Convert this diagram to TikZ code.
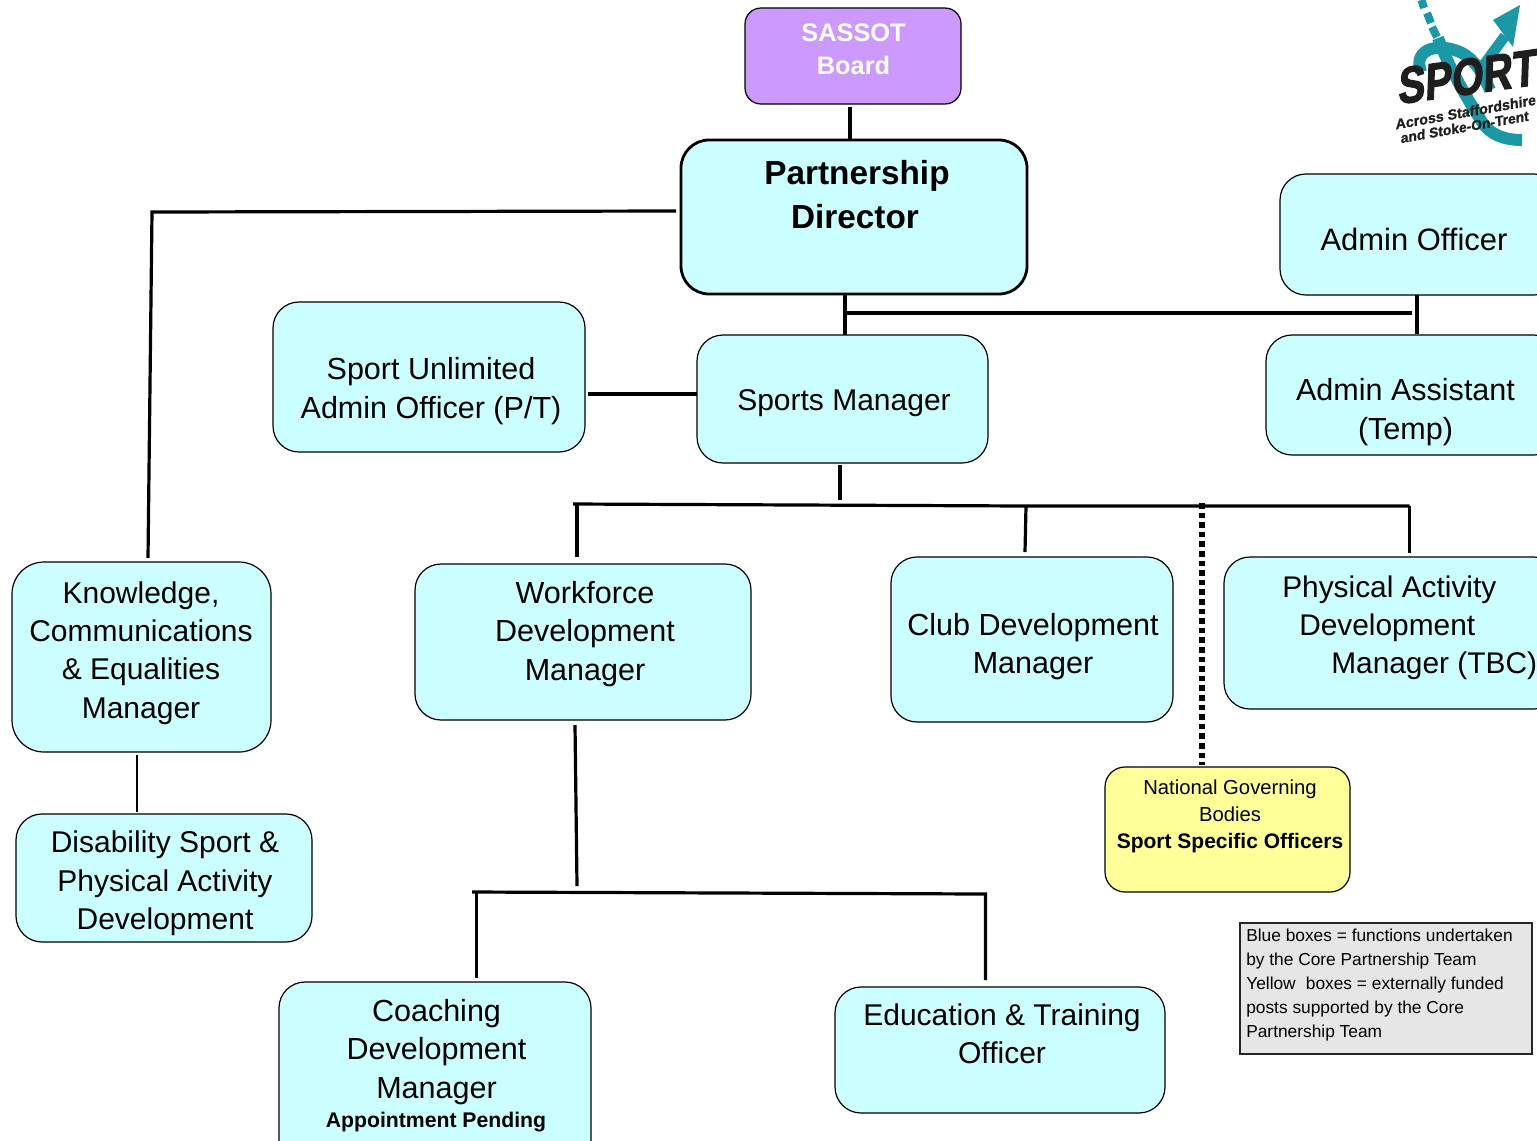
\documentclass[tikz,border=0pt]{standalone}
\usepackage{fontspec}
\setmainfont{Liberation Sans}
\newfontfamily\logofont[FakeBold=2.5,FakeSlant=0.22]{Liberation Sans Bold}
\newfontfamily\logosmall[FakeBold=1,FakeSlant=0.15]{Liberation Sans Bold}
\definecolor{cy}{HTML}{CCFFFF}
\definecolor{pu}{HTML}{CC99FF}
\definecolor{ye}{HTML}{FFFF99}
\definecolor{gy}{HTML}{E6E6E6}
\definecolor{teal1}{HTML}{1B98A6}
\definecolor{logok}{HTML}{1E1E1E}
\newcommand{\bx}[6][]{% style, name, x1,y1,x2,y2
  \pgfmathsetmacro{\bw}{(#5-#3)*0.75}\pgfmathsetmacro{\bh}{(#6-#4)*0.75}
  \node[box,#1,minimum width=\bw pt,minimum height=\bh pt] (#2) at ({(#3+#5)/2},{(#4+#6)/2}) {};}
\tikzset{
  x=0.75pt,y=-0.75pt,
  box/.style={draw=black,fill=cy,rounded corners=19.5pt,line width=0.9pt,inner sep=0pt,outer sep=0pt},
  bl/.style={align=center,inner sep=0pt,font=\fontsize{22.9}{28.8}\selectfont},
  bs/.style={align=center,inner sep=0pt,font=\fontsize{22.5}{28.8}\selectfont},
  conn/.style={draw=black,line width=2.4pt,line cap=butt},
  thinconn/.style={draw=black,line width=1.1pt},
  dotconn/.style={draw=black,line width=4.4pt,dash pattern=on 4.2pt off 3pt},
}
\begin{document}
\begin{tikzpicture}
\useasboundingbox (0,0) rectangle (1537,1140);
\clip (0,0) rectangle (1537,1140);
% boxes
\bx[fill=pu,rounded corners=12pt]{sassot}{745}{8}{961}{104}
\bx[line width=2.1pt,rounded corners=21pt]{pd}{681}{140}{1027}{294}
\bx{aof}{1280}{174}{1560}{295}
\bx{su}{273}{302}{585}{452}
\bx{sm}{697}{335}{988}{463}
\bx{aas}{1266}{335}{1560}{455}
\bx[rounded corners=24pt]{kn}{12}{562}{271}{752}
\bx{wf}{415}{564}{751}{720}
\bx{cl}{891}{557}{1173}{722}
\bx{ph}{1224}{557}{1560}{709}
\bx{ds}{16}{814}{312}{942}
\bx[fill=ye,rounded corners=15pt]{ng}{1105}{767}{1350}{892}
\bx[fill=gy,rounded corners=0pt,line width=0.8pt,draw=black!85]{lg}{1240}{923}{1532}{1054}
\bx{co}{279}{982}{591}{1170}
\bx{ed}{835}{987}{1165}{1113}
% labels
\node[bl,text=white,font=\bfseries\fontsize{19}{24.75}\selectfont] (tsassot) at (853.5,49) {SASSOT\\Board};
\node[bl,font=\bfseries\fontsize{25}{33}\selectfont] (tpd) at (857,195) {Partnership\\Director\hspace*{3pt}};
\node[bl,font=\fontsize{23.2}{28.8}\selectfont] (taof) at (1414,239.5) {Admin Officer};
\node[bl] (tsu) at (431,391) {Sport Unlimited\\Admin Officer (P/T)};
\node[bs] (tsm) at (844,403.5) {Sports Manager};
\node[bl] (taas) at (1405.5,412) {Admin Assistant\\(Temp)};
\node[bs] (tkn) at (141,653) {Knowledge,\\Communications\\\& Equalities\\Manager};
\node[bl] (twf) at (585,634) {Workforce\\Development\\Manager};
\node[bl] (tcl) at (1033,646.5) {Club Development\\Manager};
\node[bl,align=left,anchor=west,font=\fontsize{22.4}{28.6}\selectfont] (tph) at (1282,627.5) {Physical Activity\\\hspace*{12.75pt}Development\\\hspace*{36.75pt}Manager (TBC)};
\node[bs] (tds) at (165,883.5) {Disability Sport \&\\Physical Activity\\Development};
\node[bl,font=\fontsize{15.2}{20.25}\selectfont] (tng) at (1230,816) {National Governing\\Bodies\\{\fontsize{15.75}{20.25}\selectfont\bfseries Sport Specific Officers}};
\node[bl,align=left,anchor=north west,font=\fontsize{13}{18}\selectfont] (tlg) at (1246,929) {Blue boxes = functions undertaken\\by the Core Partnership Team\\Yellow\hspace{4pt} boxes = externally funded\\posts supported by the Core\\Partnership Team};
\node[bl,anchor=north] (tco) at (436.5,999) {Coaching\\Development\\Manager};
\node[anchor=base,inner sep=0pt,font=\bfseries\fontsize{15.9}{18}\selectfont] (tap) at (436,1127) {Appointment Pending};
\node[bs] (ted) at (1002,1033.5) {Education \& Training\\Officer};
% connector guides
\coordinate (a) at (850,107);
\coordinate (b) at (676,211);
\coordinate (c) at (152,212);
\coordinate (d) at (148,558);
\coordinate (e) at (845,313);
\coordinate (f) at (1412,313);
\coordinate (g) at (1417,334);
\coordinate (h) at (588,394);
\coordinate (i) at (840,465);
\coordinate (j) at (840,500);
\coordinate (k) at (573,504);
\coordinate (l) at (1026,506);
\coordinate (m) at (1025,552);
\coordinate (n) at (1409.5,506);
\coordinate (o) at (1409.5,553);
\coordinate (p) at (577,557);
\coordinate (q) at (1202,503);
\coordinate (r) at (1202,765);
\coordinate (s) at (137,755);
\coordinate (t) at (137,812);
\coordinate (u) at (575,725);
\coordinate (v) at (577,886);
\coordinate (w) at (472,892);
\coordinate (xa) at (985.5,894);
\coordinate (xb) at (476.5,978);
\coordinate (xc) at (985.5,980);
\coordinate (xd) at (476.5,893);
\coordinate (xe) at (577,504);
% connectors
\draw[conn] (a) -- (a |- pd.north);
\draw[conn] (b) -- (c) -- (d);
\draw[conn] (e |- pd.south) -- (e |- sm.north);
\draw[conn] (e) -- (f);
\draw[conn] (g |- aof.south) -- (g);
\draw[conn] (h) -- (h -| sm.west);
\draw[conn] (i) -- (j);
\draw[conn] (k) -- (l) -- (n);
\draw[conn] (xe) -- (p);
\draw[conn] (l) -- (m);
\draw[conn] (n) -- (o);
\draw[dotconn] (q) -- (r);
\draw[thinconn] (s) -- (t);
\draw[conn] (u) -- (v);
\draw[conn] (w) -- (xa) -- (xc);
\draw[conn] (xd) -- (xb);
% logo
\draw[teal1,line width=6pt] (1421.5,0) -- (1424,8);
\draw[teal1,line width=6pt] (1427,13) -- (1431,23);
\draw[teal1,line width=6pt] (1432,27) -- (1437,37);
\draw[teal1,line width=9pt] (1438,38) .. controls (1450,70) and (1468,100) .. (1482,122) .. controls (1490,135) and (1505,140) .. (1522,140);
\draw[teal1,line width=9pt] (1421,72) .. controls (1412,48) and (1440,42) .. (1462,53) .. controls (1475,60) and (1482,72) .. (1490,90);
\draw[teal1,line width=8pt] (1480,70) -- (1505,36);
\fill[teal1] (1520,5) -- (1493,20) -- (1513,47) -- cycle;
\node[rotate=8,transform shape,yscale=1.25,inner sep=0pt,text=logok,font=\logofont\fontsize{30.5}{31}\selectfont] (lsport) at (1465,77) {SPORT};
\node[rotate=10,inner sep=0pt,text=logok,font=\logosmall\fontsize{10.8}{12}\selectfont] (lacross) at (1465,112) {Across Staffordshire};
\node[rotate=10,inner sep=0pt,text=logok,font=\logosmall\fontsize{10.5}{12}\selectfont] (lstoke) at (1464,127) {and Stoke-On-Trent};
\end{tikzpicture}
\end{document}
